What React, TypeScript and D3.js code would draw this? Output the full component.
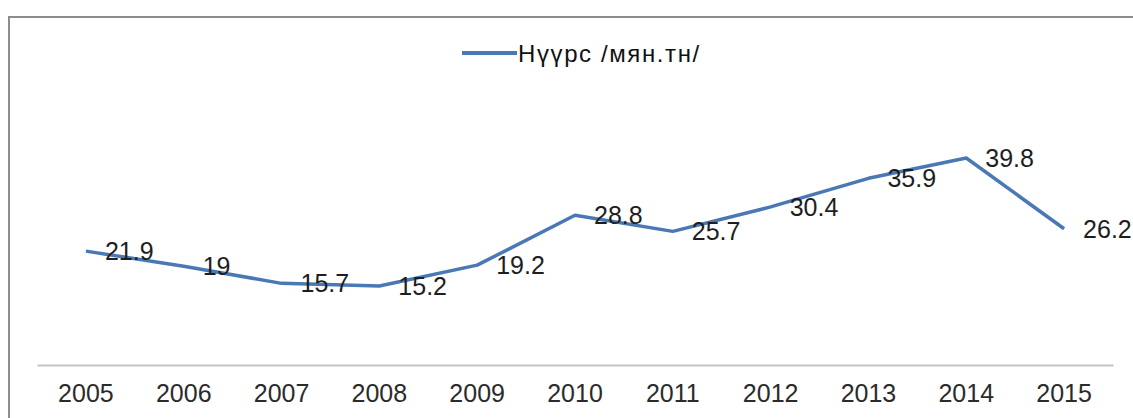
import React, { useEffect, useRef } from 'react';
import * as d3 from 'd3';

const WIDTH = 1133;
const HEIGHT = 418;
const LINE_COLOR = '#4a78b5';
const AXIS_COLOR = '#c3c3c3';
const BORDER_COLOR = '#8c8c8c';
const FONT = '"Liberation Sans", Arial, Helvetica, sans-serif';

const YEARS = ['2005', '2006', '2007', '2008', '2009', '2010', '2011', '2012', '2013', '2014', '2015'];
const COAL = [21.9, 19, 15.7, 15.2, 19.2, 28.8, 25.7, 30.4, 35.9, 39.8, 26.2];
const SERIES_NAME = 'Нүүрс /мян.тн/';
const Y_DOMAIN = [0, 45];

const PLOT = { left: 37, right: 1113, top: 131, bottom: 365 };

const App: React.FC = () => {
  const svgRef = useRef<SVGSVGElement>(null);

  useEffect(() => {
    const svg = d3.select(svgRef.current);
    svg.selectAll('*').remove();

    svg.append('rect')
      .attr('width', WIDTH).attr('height', HEIGHT)
      .attr('fill', '#fff');

    // outer frame (right and bottom edges are cut off in the picture)
    svg.append('path')
      .attr('d', `M9,${HEIGHT + 5}V17H${WIDTH + 5}`)
      .attr('fill', 'none')
      .attr('stroke', BORDER_COLOR)
      .attr('stroke-width', 2);

    const x = d3.scaleBand<string>().domain(YEARS).range([PLOT.left, PLOT.right]);
    const y = d3.scaleLinear().domain(Y_DOMAIN).range([PLOT.bottom, PLOT.top]);
    const cx = (i: number) => (x(YEARS[i]) ?? 0) + x.bandwidth() / 2;

    // x axis
    svg.append('g')
      .attr('transform', `translate(0,${PLOT.bottom})`)
      .call(d3.axisBottom(x).tickSize(0).tickSizeOuter(0).tickPadding(19))
      .call(sel => {
        sel.select('.domain').attr('stroke', AXIS_COLOR).attr('stroke-width', 2);
        sel.selectAll('text')
          .attr('fill', '#2b2b2b')
          .attr('font-size', 25)
          .attr('font-family', FONT);
      });

    // series line
    const line = d3.line<number>()
      .x((_, i) => cx(i))
      .y(v => y(v));

    svg.append('path')
      .datum(COAL)
      .attr('fill', 'none')
      .attr('stroke', LINE_COLOR)
      .attr('stroke-width', 3.5)
      .attr('stroke-linejoin', 'round')
      .attr('d', line);

    // data labels, to the right of each point
    svg.append('g')
      .selectAll('text')
      .data(COAL)
      .join('text')
      .attr('x', (_, i) => cx(i) + 19)
      .attr('y', v => y(v))
      .attr('dy', '0.35em')
      .attr('fill', '#1e1e1e')
      .attr('font-size', 25)
      .attr('font-family', FONT)
      .text(v => String(v));

    // legend
    const legend = svg.append('g').attr('transform', 'translate(462,53)');
    legend.append('line')
      .attr('x1', 0).attr('x2', 55)
      .attr('stroke', LINE_COLOR)
      .attr('stroke-width', 4);
    legend.append('text')
      .attr('x', 56).attr('y', 9)
      .attr('fill', '#111')
      .attr('font-size', 24)
      .attr('letter-spacing', 1.6)
      .attr('font-family', FONT)
      .text(SERIES_NAME);
  }, []);

  return (
    <svg
      ref={svgRef}
      width={WIDTH}
      height={HEIGHT}
      style={{ position: 'absolute', left: 0, top: 0, display: 'block' }}
    />
  );
};

export default App;
